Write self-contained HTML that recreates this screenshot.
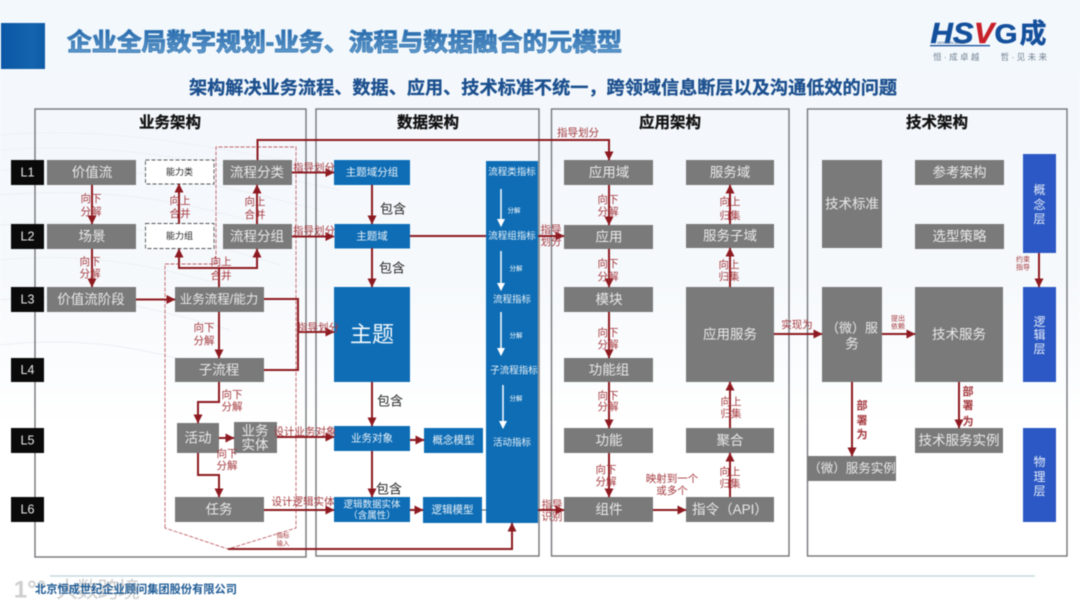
<!DOCTYPE html>
<html lang="zh">
<head>
<meta charset="utf-8">
<title>企业全局数字规划-业务、流程与数据融合的元模型</title>
<style>
html,body{margin:0;padding:0;width:1080px;height:608px;overflow:hidden;background:#fff}
svg{display:block;filter:blur(.5px)}
text{font-family:"Liberation Sans","Noto Sans CJK SC",sans-serif;text-anchor:middle;dominant-baseline:central}
.f{fill:none;stroke:#74777a;stroke-width:1.4}
.g{fill:#7a7a7a}
.b{fill:#0e6db5}
.p{fill:#2b58c4}
.gt{fill:#e9e9e9;font-size:13.5px}
.bt{fill:#e8f1f8;font-size:10.5px}
.h{fill:#111;font-size:15.5px;font-weight:700;stroke:#111;stroke-width:.3}
.r{fill:#a4383d;font-size:10.5px}
.k{fill:#222;font-size:13px}
.s{fill:#fff;font-size:6.5px}
.l{fill:#e8e8e8;font-size:12.5px}
.c{fill:none;stroke:#8d1a20;stroke-width:2}
.cm{fill:none;stroke:#8d1a20;stroke-width:2;marker-end:url(#a)}
.w{stroke:#fff;stroke-width:1.5;fill:none;marker-end:url(#wa)}
</style>
</head>
<body>
<svg width="1080" height="608" viewBox="0 0 1080 608" xmlns="http://www.w3.org/2000/svg">
<defs>
<linearGradient id="bg" x1="0" y1="0" x2="0" y2="1">
<stop offset="0" stop-color="#f3f8fc"/><stop offset=".45" stop-color="#f6f9fc"/><stop offset=".7" stop-color="#ffffff"/>
</linearGradient>
<linearGradient id="tg" x1="0" y1="0" x2="0" y2="1">
<stop offset="0" stop-color="#1f62a8"/><stop offset="1" stop-color="#6fa6d4"/>
</linearGradient>
<linearGradient id="sq" x1="0" y1="0" x2="1" y2="0">
<stop offset="0" stop-color="#0b57a6"/><stop offset=".7" stop-color="#1464ae"/><stop offset="1" stop-color="#0e5ba8"/>
</linearGradient>
<marker id="a" markerWidth="10" markerHeight="9" refX="8.5" refY="4.5" orient="auto" markerUnits="userSpaceOnUse">
<path d="M0 0L9 4.5L0 9Z" fill="#8d1a20"/>
</marker>
<marker id="wa" markerWidth="9" markerHeight="8" refX="7" refY="4" orient="auto" markerUnits="userSpaceOnUse">
<path d="M0 0L8 4L0 8Z" fill="#fff"/>
</marker>
</defs>

<rect width="1080" height="608" fill="url(#bg)"/>
<g fill="none" stroke="#edf2f6" stroke-width="1.2">
<path d="M0 135C120 125 220 150 340 170"/><path d="M0 150C120 140 220 165 340 190"/>
<path d="M0 170C120 160 220 185 320 210"/><path d="M0 195C120 185 200 205 300 235"/>
<path d="M0 225C100 215 180 235 280 265"/><path d="M0 260C100 250 170 270 260 295"/>
<path d="M0 300C90 290 160 310 230 330"/><path d="M0 345C90 335 150 350 220 370"/>
</g>

<!-- header -->
<rect x="1" y="23" width="44" height="46" fill="url(#sq)"/>
<text x="344.500" y="43" style="font-size:24.500px;font-weight:700" fill="url(#tg)" stroke="#3f7fb8" stroke-width="1" textLength="555" lengthAdjust="spacingAndGlyphs">企业全局数字规划-业务、流程与数据融合的元模型</text>
<text x="543" y="88" style="font-size:18px;font-weight:700" fill="#1b4f8e" stroke="#1b4f8e" stroke-width=".3" textLength="708" lengthAdjust="spacingAndGlyphs">架构解决业务流程、数据、应用、技术标准不统一&#xFF0C;跨领域信息断层以及沟通低效的问题</text>

<!-- logo -->
<text x="952" y="34" style="font-size:29px;font-weight:700;font-style:italic" fill="#15509c" stroke="#15509c" stroke-width=".6" textLength="43" lengthAdjust="spacingAndGlyphs">HS</text>
<text x="984" y="34" style="font-size:29px;font-weight:700;font-style:italic" fill="#c8202a" stroke="#c8202a" stroke-width=".6" textLength="20" lengthAdjust="spacingAndGlyphs">V</text>
<text x="1006" y="34" style="font-size:27px;font-weight:700" fill="#15509c" stroke="#15509c" stroke-width=".6" textLength="23" lengthAdjust="spacingAndGlyphs">G</text>
<text x="1033" y="34" style="font-size:27px;font-weight:700" fill="#15509c" stroke="#15509c" stroke-width=".4">成</text>
<rect x="930" y="45" width="60" height="1.300" fill="#15509c"/>
<text x="952" y="43" style="font-size:3.500px" fill="#33588c">HENTION GROUP</text>
<text x="990" y="57" style="font-size:8.500px" fill="#6f7f90" textLength="114">恒·成卓越&#160;&#160;&#160;&#160;哲·见未来</text>

<!-- frames -->
<rect class="f" x="35" y="109" width="271" height="448"/>
<rect class="f" x="316" y="109" width="223" height="447"/>
<rect class="f" x="551.500" y="109" width="237.500" height="447"/>
<rect class="f" x="807.500" y="109" width="259.500" height="447"/>
<text class="h" x="170" y="123">业务架构</text>
<text class="h" x="428" y="123">数据架构</text>
<text class="h" x="670" y="123">应用架构</text>
<text class="h" x="937" y="123">技术架构</text>

<!-- L labels -->
<g fill="#0a0a0a">
<rect x="11" y="160" width="33" height="25"/><rect x="11" y="224" width="33" height="25"/><rect x="11" y="287" width="33" height="25"/>
<rect x="11" y="358" width="33" height="24"/><rect x="11" y="428" width="33" height="25"/><rect x="11" y="497" width="33" height="25"/>
</g>
<text class="l" x="27.500" y="172.500">L1</text><text class="l" x="27.500" y="236.500">L2</text><text class="l" x="27.500" y="299.500">L3</text>
<text class="l" x="27.500" y="370">L4</text><text class="l" x="27.500" y="440.500">L5</text><text class="l" x="27.500" y="509.500">L6</text>

<!-- dashed region -->
<path d="M165 528L165 264L216 264L216 147L296 147L296 528L228 549Z" fill="none" stroke="#c0646c" stroke-width=".9" stroke-dasharray="4 1.500"/>

<!-- gray boxes -->
<g class="g">
<rect x="47" y="160" width="89" height="25"/><rect x="47" y="224" width="89" height="25"/><rect x="47" y="287" width="89" height="25"/>
<rect x="223" y="160" width="69" height="25"/><rect x="223" y="224" width="69" height="25"/>
<rect x="175" y="287" width="89" height="25"/><rect x="175" y="358" width="89" height="24"/>
<rect x="177" y="423" width="42" height="30"/><rect x="234" y="422" width="43" height="31"/>
<rect x="175" y="497" width="89" height="25"/>
<rect x="564" y="160" width="89" height="25"/><rect x="564" y="225" width="89" height="24"/><rect x="564" y="287" width="89" height="25"/>
<rect x="564" y="358" width="89" height="24"/><rect x="564" y="428" width="89" height="25"/><rect x="564" y="497" width="89" height="25"/>
<rect x="686" y="160" width="88" height="25"/><rect x="686" y="224" width="88" height="24"/><rect x="686" y="287" width="88" height="95"/>
<rect x="686" y="428" width="88" height="25"/><rect x="686" y="497" width="88" height="25"/>
<rect x="822" y="160" width="60" height="88"/><rect x="915" y="160" width="89" height="25"/><rect x="915" y="224" width="89" height="25"/>
<rect x="822" y="287" width="60" height="95"/><rect x="915" y="287" width="88" height="95"/>
<rect x="915" y="428" width="88" height="25"/><rect x="808" y="456" width="88" height="25"/>
</g>
<rect x="145.500" y="160" width="68.500" height="24" fill="#fff" stroke="#555" stroke-width=".9" stroke-dasharray="4 2"/>
<rect x="145.500" y="223.500" width="68.500" height="25" fill="#fff" stroke="#555" stroke-width=".9" stroke-dasharray="4 2"/>

<!-- blue boxes -->
<g class="b">
<rect x="334" y="160" width="76" height="25"/><rect x="334.500" y="224" width="75.500" height="24.500"/><rect x="334" y="287" width="76" height="95"/>
<rect x="334" y="426" width="76" height="25"/><rect x="424" y="428" width="59" height="25"/>
<rect x="334" y="497" width="76" height="25"/><rect x="423" y="497" width="59" height="26"/>
<rect x="486" y="161" width="52" height="362"/>
</g>
<g class="p">
<rect x="1023" y="154" width="33" height="99"/><rect x="1023" y="287" width="33" height="95"/><rect x="1023" y="428" width="33" height="94"/>
</g>

<!-- connectors -->
<path class="cm" d="M92 185V224"/>
<path class="cm" d="M92 249V287"/>
<path class="cm" d="M136 299.500H175"/>
<path class="cm" d="M179 224V184"/>
<path class="cm" d="M257 224V185"/>
<path class="c" d="M219 287V268"/>
<path class="cm" d="M219 268H179V249"/>
<path class="cm" d="M219 268H257V249"/>
<path class="cm" d="M257.500 160V140H609V160"/>
<path class="cm" d="M292 172.500H334"/>
<path class="cm" d="M292 236.500H334"/>
<path class="c" d="M264 299H298V370H264"/>
<path class="cm" d="M298 332H334"/>
<path class="cm" d="M219 312V358"/>
<path class="cm" d="M219 382V402H198V423"/>
<path class="cm" d="M219 438H234"/>
<path class="cm" d="M198 453V475H219V497"/>
<path class="cm" d="M277 437H334"/>
<path class="cm" d="M264 510H334"/>
<path class="cm" d="M228 549H512V523"/>
<path class="cm" d="M372 185V224"/>
<path class="cm" d="M372 248V287"/>
<path class="cm" d="M372 382V426"/>
<path class="cm" d="M372 451V497"/>
<path class="cm" d="M410 440H424"/>
<path class="cm" d="M410 510H423"/>
<path d="M482 510H486" stroke="#555" stroke-width="1"/>
<path class="c" d="M410 236H486"/>
<path class="cm" d="M538 236H564"/>
<path class="cm" d="M538 510H564"/>
<path class="cm" d="M609 185V225"/>
<path class="cm" d="M609 249V287"/>
<path class="cm" d="M609 312V358"/>
<path class="cm" d="M609 382V428"/>
<path class="cm" d="M609 453V497"/>
<path class="cm" d="M730 224V185"/>
<path class="cm" d="M730 287V248"/>
<path class="cm" d="M730 428V382"/>
<path class="cm" d="M730 497V453"/>
<path class="cm" d="M653 510H686"/>
<path class="cm" d="M774 334H822"/>
<path class="cm" d="M882 334H915"/>
<path class="cm" d="M852 382V456"/>
<path class="cm" d="M959 382V428"/>
<path class="cm" d="M1039 253V287"/>

<!-- metric arrows -->
<path class="w" d="M501 189V226"/><path class="w" d="M501 251V290"/><path class="w" d="M501 312V355"/><path class="w" d="M503 385V428"/>

<!-- text: gray boxes -->
<g>
<text class="gt" x="92" y="172.500">价值流</text><text class="gt" x="92" y="236.500">场景</text><text class="gt" x="91" y="299.500">价值流阶段</text>
<text class="gt" x="257" y="172.500">流程分类</text><text class="gt" x="257" y="236.500">流程分组</text>
<text class="gt" x="219" y="299.500" style="font-size:12.500px">业务流程/能力</text><text class="gt" x="219" y="370">子流程</text>
<text class="gt" x="198" y="438">活动</text><text class="gt" x="255" y="431">业务</text><text class="gt" x="255" y="445">实体</text>
<text class="gt" x="219" y="509.500">任务</text>
<text class="gt" x="609" y="172.500">应用域</text><text class="gt" x="609" y="237">应用</text><text class="gt" x="609" y="299.500">模块</text>
<text class="gt" x="609" y="370">功能组</text><text class="gt" x="609" y="440.500">功能</text><text class="gt" x="609" y="509.500">组件</text>
<text class="gt" x="730" y="172.500">服务域</text><text class="gt" x="730" y="236">服务子域</text><text class="gt" x="730" y="334.500">应用服务</text>
<text class="gt" x="730" y="440.500">聚合</text><text class="gt" x="730" y="509.500">指令&#xFF08;API&#xFF09;</text>
<text class="gt" x="852" y="204">技术标准</text><text class="gt" x="959.500" y="172.500">参考架构</text><text class="gt" x="959.500" y="236.500">选型策略</text>
<text class="gt" x="852" y="328" style="font-size:13px">&#xFF08;微&#xFF09;服</text><text class="gt" x="852" y="344">务</text><text class="gt" x="959" y="334.500">技术服务</text>
<text class="gt" x="959" y="440.500">技术服务实例</text><text class="gt" x="852" y="468.500" style="font-size:12.500px">&#xFF08;微&#xFF09;服务实例</text>
</g>
<text x="179.500" y="172" style="font-size:9px" fill="#222">能力类</text>
<text x="179.500" y="236" style="font-size:9px" fill="#222">能力组</text>

<!-- text: blue boxes -->
<text class="bt" x="372" y="172.500">主题域分组</text><text class="bt" x="372" y="236.500">主题域</text>
<text x="372" y="334.500" style="font-size:22px" fill="#f2f7fb">主题</text>
<text class="bt" x="372" y="438.500">业务对象</text><text class="bt" x="453.500" y="440.500">概念模型</text>
<text class="bt" x="372" y="505" style="font-size:9.500px">逻辑数据实体</text><text class="bt" x="372" y="516" style="font-size:9.500px">&#xFF08;含属性&#xFF09;</text>
<text class="bt" x="452.500" y="510">逻辑模型</text>
<g>
<text class="bt" x="512" y="172.500" style="font-size:9.500px">流程类指标</text>
<text class="bt" x="512" y="236.500" style="font-size:9.500px">流程组指标</text>
<text class="bt" x="512" y="300" style="font-size:9.500px">流程指标</text>
<text class="bt" x="514" y="371" style="font-size:9.500px">子流程指标</text>
<text class="bt" x="512" y="443" style="font-size:9.500px">活动指标</text>
<text class="s" x="514" y="211">分解</text><text class="s" x="516" y="269">分解</text>
<text class="s" x="516" y="336">分解</text><text class="s" x="516" y="399">分解</text>
</g>
<g fill="#e8eefa">
<text x="1039.500" y="190" style="font-size:12px">概</text><text x="1039.500" y="205" style="font-size:12px">念</text><text x="1039.500" y="219" style="font-size:12px">层</text>
<text x="1039.500" y="322" style="font-size:12px">逻</text><text x="1039.500" y="335" style="font-size:12px">辑</text><text x="1039.500" y="349" style="font-size:12px">层</text>
<text x="1039.500" y="462" style="font-size:12px">物</text><text x="1039.500" y="477" style="font-size:12px">理</text><text x="1039.500" y="491" style="font-size:12px">层</text>
</g>

<!-- red labels -->
<g>
<text class="r" x="91" y="199">向下</text><text class="r" x="91" y="212">分解</text>
<text class="r" x="90" y="262">向下</text><text class="r" x="90" y="274">分解</text>
<text class="r" x="180" y="201">向上</text><text class="r" x="180" y="214">合并</text>
<text class="r" x="255" y="202">向上</text><text class="r" x="255" y="215">合并</text>
<text class="r" x="221" y="262">向上</text><text class="r" x="221" y="276">合并</text>
<text class="r" x="578" y="133">指导划分</text>
<text class="r" x="314" y="168">指导划分</text><text class="r" x="314" y="231">指导划分</text><text class="r" x="318" y="328">指导划分</text>
<text class="r" x="204" y="328">向下</text><text class="r" x="204" y="341">分解</text>
<text class="r" x="232" y="395">向下</text><text class="r" x="232" y="407">分解</text>
<text class="r" x="227" y="454">向下</text><text class="r" x="227" y="466">分解</text>
<text class="r" x="305" y="432">设计业务对象</text><text class="r" x="303" y="502">设计逻辑实体</text>
<text class="r" x="283" y="536" style="font-size:6.500px">指标</text><text class="r" x="283" y="544" style="font-size:6.500px">输入</text>
<text class="r" x="551" y="230">指导</text><text class="r" x="551" y="242">划分</text>
<text class="r" x="552" y="505">指导</text><text class="r" x="552" y="517">识别</text>
<text class="r" x="608" y="200">向下</text><text class="r" x="608" y="212">分解</text>
<text class="r" x="608" y="264">向下</text><text class="r" x="608" y="277">分解</text>
<text class="r" x="608" y="333">向下</text><text class="r" x="608" y="345">分解</text>
<text class="r" x="608" y="396">向下</text><text class="r" x="608" y="407">分解</text>
<text class="r" x="606" y="470">向下</text><text class="r" x="606" y="482">分解</text>
<text class="r" x="730" y="202">向上</text><text class="r" x="730" y="216">归集</text>
<text class="r" x="729" y="265">向上</text><text class="r" x="729" y="277">归集</text>
<text class="r" x="731" y="402">向上</text><text class="r" x="731" y="414">归集</text>
<text class="r" x="730" y="472">向上</text><text class="r" x="730" y="484">归集</text>
<text class="r" x="672" y="479">映射到一个</text><text class="r" x="672" y="491">或多个</text>
<text class="r" x="797" y="325">实现为</text>
<text class="r" x="898" y="319" style="font-size:7px">提出</text><text class="r" x="898" y="327" style="font-size:7px">依赖</text>
<text class="r" x="1023" y="260" style="font-size:7px">约束</text><text class="r" x="1023" y="268" style="font-size:7px">指导</text>
<text class="r" x="862" y="406" style="font-weight:700;font-size:11px">部</text><text class="r" x="862" y="421" style="font-weight:700;font-size:11px">署</text><text class="r" x="862" y="435" style="font-weight:700;font-size:11px">为</text>
<text class="r" x="968" y="392" style="font-weight:700;font-size:11px">部</text><text class="r" x="968" y="406" style="font-weight:700;font-size:11px">署</text><text class="r" x="968" y="422" style="font-weight:700;font-size:11px">为</text>
</g>
<text class="k" x="393" y="209">包含</text><text class="k" x="392" y="268">包含</text><text class="k" x="390" y="401">包含</text><text class="k" x="389" y="489">包含</text>

<!-- footer -->
<path d="M50 576H1035" stroke="#c4dadf" stroke-width="1.500"/>
<text x="30" y="590" style="font-size:24px;font-weight:700" fill="#cfcfcf">1°°</text>
<text x="98" y="590" style="font-size:22px" fill="#cccccc" textLength="84">大数跨境</text>
<text x="136" y="590" style="font-size:11.200px;font-weight:700" fill="#1d5a94" textLength="202" lengthAdjust="spacingAndGlyphs">北京恒成世纪企业顾问集团股份有限公司</text>
</svg>
</body>
</html>
